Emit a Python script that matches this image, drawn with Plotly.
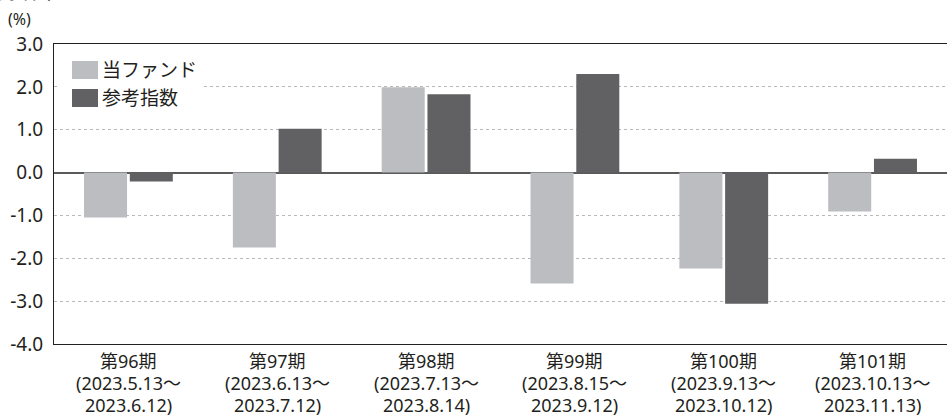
import plotly.graph_objects as go

# Period labels: period number, start date, end date
periods = ["第96期", "第97期", "第98期", "第99期", "第100期", "第101期"]
period_starts = ["(2023.5.13～", "(2023.6.13～", "(2023.7.13～",
                 "(2023.8.15～", "(2023.9.13～", "(2023.10.13～"]
period_ends = ["2023.6.12)", "2023.7.12)", "2023.8.14)",
               "2023.9.12)", "2023.10.12)", "2023.11.13)"]
series_names = ["当ファンド", "参考指数"]
fund_returns = [-1.05, -1.75, 1.99, -2.59, -2.24, -0.91]
index_returns = [-0.21, 1.02, 1.83, 2.30, -3.06, 0.32]

y_ticks = [3.0, 2.0, 1.0, 0.0, -1.0, -2.0, -3.0, -4.0]
y_tick_text = ["3.0", "2.0", "1.0", "0.0", "-1.0", "-2.0", "-3.0", "-4.0"]

colors = ["#bcbdc0", "#616163"]
font_family = "Noto Sans, Noto Sans CJK JP"
text_color = "#231f20"

fig = go.Figure()
for name, vals, col in zip(series_names, [fund_returns, index_returns], colors):
    fig.add_trace(go.Bar(x=periods, y=vals, name=name,
                         marker=dict(color=col, line=dict(width=0)),
                         showlegend=False))

W, H = 947, 416
L, R, T, B = 54, 0, 44, 72
plot_h = H - T - B
plot_w = W - L - R

fig.update_layout(
    width=W, height=H,
    margin=dict(l=L, r=R, t=T, b=B),
    paper_bgcolor="white", plot_bgcolor="white",
    barmode="group", bargap=0.385, bargroupgap=0.06,
    font=dict(family=font_family, color=text_color, size=16),
)
fig.update_xaxes(
    showline=True, linecolor="#231f20", linewidth=1.2, mirror=True,
    ticks="", showticklabels=False, showgrid=False,
)
fig.update_yaxes(
    range=[-4, 3], tickvals=y_ticks, ticktext=y_tick_text,
    tickfont=dict(size=19, color=text_color), ticks="", ticklabelstandoff=6,
    showline=True, linecolor="#231f20", linewidth=1.2,
    showgrid=True, gridcolor="#b8b8b8", griddash="dot", gridwidth=1.3,
    zeroline=True, zerolinecolor="#5a5a5a", zerolinewidth=2,
)

def py(px_from_top):
    return 1 - (px_from_top - T) / plot_h

def px_(px_from_left):
    return (px_from_left - L) / plot_w

# Category labels below the axis, one annotation per line for tight leading
for p, s, e in zip(periods, period_starts, period_ends):
    for txt, yc in zip([p, s, e], [361, 383, 405]):
        fig.add_annotation(text=txt, xref="x", yref="paper", x=p, y=py(yc),
                           xanchor="center", yanchor="middle", showarrow=False,
                           font=dict(size=18, color=text_color))

# Unit label above the axis
fig.add_annotation(text="(%)", xref="paper", yref="paper", x=px_(6), y=py(19),
                   xanchor="left", yanchor="middle", showarrow=False,
                   font=dict(size=16, color=text_color))
# Chart heading (mostly above the visible page)
fig.add_annotation(text="騰落率", xref="paper", yref="paper", x=px_(-8), y=py(6),
                   xanchor="left", yanchor="bottom", showarrow=False,
                   font=dict(size=22, color=text_color))

# Legend box covering gridlines
fig.add_shape(type="rect", xref="paper", yref="paper",
              x0=px_(58), x1=px_(203), y0=py(110), y1=py(56),
              fillcolor="white", line=dict(width=0), layer="above")
legend_rows = [70, 98]
for name, col, yc in zip(series_names, colors, legend_rows):
    fig.add_shape(type="rect", xref="paper", yref="paper",
                  x0=px_(72), x1=px_(98), y0=py(yc + 9), y1=py(yc - 9),
                  fillcolor=col, line=dict(width=0), layer="above")
    fig.add_annotation(text=name, xref="paper", yref="paper", x=px_(100), y=py(yc),
                       xanchor="left", yanchor="middle", showarrow=False,
                       font=dict(size=19, color=text_color))

fig.write_html("out.html")
